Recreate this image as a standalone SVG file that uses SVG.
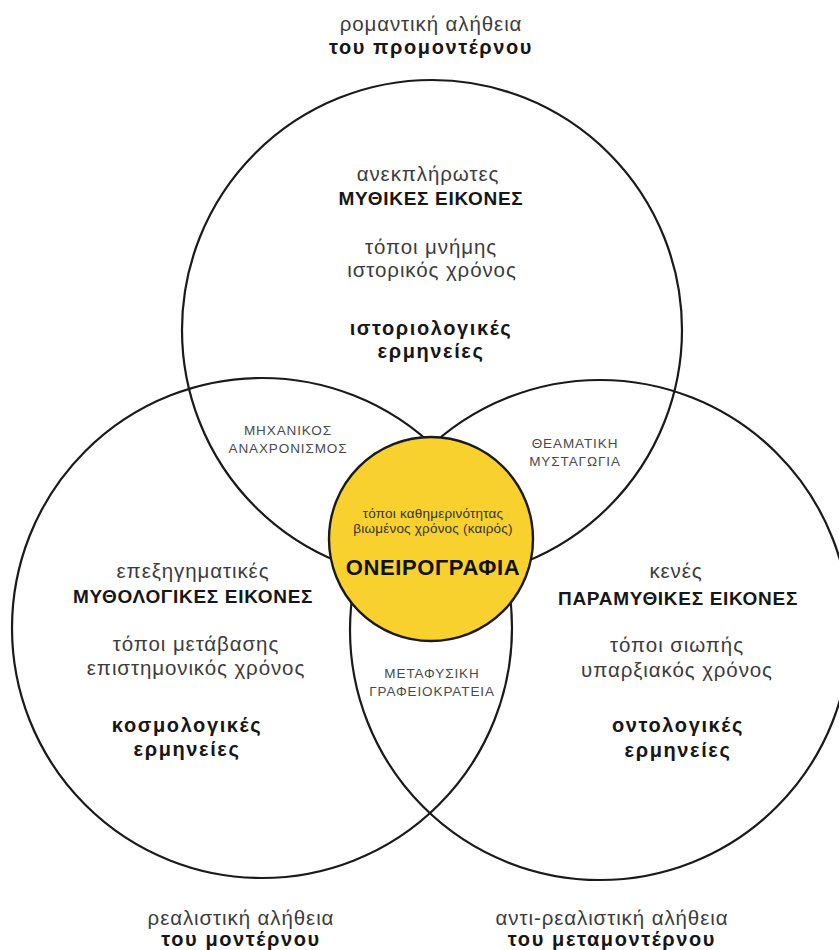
<svg xmlns="http://www.w3.org/2000/svg" width="839" height="950" viewBox="0 0 839 950">
  <style>
    text { font-family: "Liberation Sans", Arial, sans-serif; text-anchor: middle; }
    .ring { fill: none; stroke: #1a1a1a; stroke-width: 2.2; }
    .core { fill: #F8D12F; stroke: #1a1a1a; stroke-width: 2.4; }
    .lt { font-size: 20.5px; fill: #3c3c3c; letter-spacing: 0.9px; }
    .bd { font-size: 19px; font-weight: bold; fill: #161616; letter-spacing: 0.7px; }
    .bl { font-size: 20px; font-weight: bold; fill: #161616; letter-spacing: 1.6px; }
    .cap { font-size: 13.5px; fill: #4a4a4a; letter-spacing: 0.9px; }
    .sm { font-size: 13.5px; fill: #333; letter-spacing: 0.2px; }
    .big { font-size: 22px; font-weight: bold; fill: #111; letter-spacing: 0.6px; }
  </style>
  <rect width="839" height="950" fill="#ffffff"/>

  <!-- three overlapping outer circles -->
  <g id="circle-top">
    <circle class="ring" cx="432" cy="330" r="250"/>
    <text class="lt" x="428" y="181">ανεκπλήρωτες</text>
    <text class="bd" x="431" y="205">ΜΥΘΙΚΕΣ ΕΙΚΟΝΕΣ</text>
    <text class="lt" x="431" y="254">τόποι μνήμης</text>
    <text class="lt" x="432" y="277">ιστορικός χρόνος</text>
    <text class="bl" x="431" y="335">ιστοριολογικές</text>
    <text class="bl" x="431" y="358">ερμηνείες</text>
  </g>

  <g id="circle-left">
    <circle class="ring" cx="262" cy="628" r="250"/>
    <text class="lt" x="193" y="578">επεξηγηματικές</text>
    <text class="bd" x="193" y="603">ΜΥΘΟΛΟΓΙΚΕΣ ΕΙΚΟΝΕΣ</text>
    <text class="lt" x="196" y="651">τόποι μετάβασης</text>
    <text class="lt" x="196" y="675">επιστημονικός χρόνος</text>
    <text class="bl" x="187" y="732">κοσμολογικές</text>
    <text class="bl" x="187" y="756">ερμηνείες</text>
  </g>

  <g id="circle-right">
    <circle class="ring" cx="600" cy="630" r="250"/>
    <text class="lt" x="676" y="578">κενές</text>
    <text class="bd" x="678" y="605">ΠΑΡΑΜΥΘΙΚΕΣ ΕΙΚΟΝΕΣ</text>
    <text class="lt" x="677" y="652">τόποι σιωπής</text>
    <text class="lt" x="677" y="677">υπαρξιακός χρόνος</text>
    <text class="bl" x="678" y="732">οντολογικές</text>
    <text class="bl" x="678" y="757">ερμηνείες</text>
  </g>

  <!-- pairwise overlaps -->
  <g id="overlap-top-left">
    <text class="cap" x="288" y="435">ΜΗΧΑΝΙΚΟΣ</text>
    <text class="cap" x="288" y="453">ΑΝΑΧΡΟΝΙΣΜΟΣ</text>
  </g>
  <g id="overlap-top-right">
    <text class="cap" x="575" y="448">ΘΕΑΜΑΤΙΚΗ</text>
    <text class="cap" x="575" y="466">ΜΥΣΤΑΓΩΓΙΑ</text>
  </g>
  <g id="overlap-left-right">
    <text class="cap" x="432" y="678">ΜΕΤΑΦΥΣΙΚΗ</text>
    <text class="cap" x="432" y="696">ΓΡΑΦΕΙΟΚΡΑΤΕΙΑ</text>
  </g>

  <!-- central yellow node -->
  <g id="center">
    <circle class="core" cx="431" cy="539" r="102"/>
    <text class="sm" x="433" y="518">τόποι καθημερινότητας</text>
    <text class="sm" x="433" y="533">βιωμένος χρόνος (καιρός)</text>
    <text class="big" x="433" y="575">ΟΝΕΙΡΟΓΡΑΦΙΑ</text>
  </g>

  <!-- outer captions -->
  <g id="caption-top">
    <text class="lt" x="431" y="31">ρομαντική αλήθεια</text>
    <text class="bl" x="431" y="54">του προμοντέρνου</text>
  </g>
  <g id="caption-left">
    <text class="lt" x="241" y="925">ρεαλιστική αλήθεια</text>
    <text class="bl" x="241" y="946">του μοντέρνου</text>
  </g>
  <g id="caption-right">
    <text class="lt" x="612" y="925">αντι-ρεαλιστική αλήθεια</text>
    <text class="bl" x="612" y="946">του μεταμοντέρνου</text>
  </g>
</svg>
